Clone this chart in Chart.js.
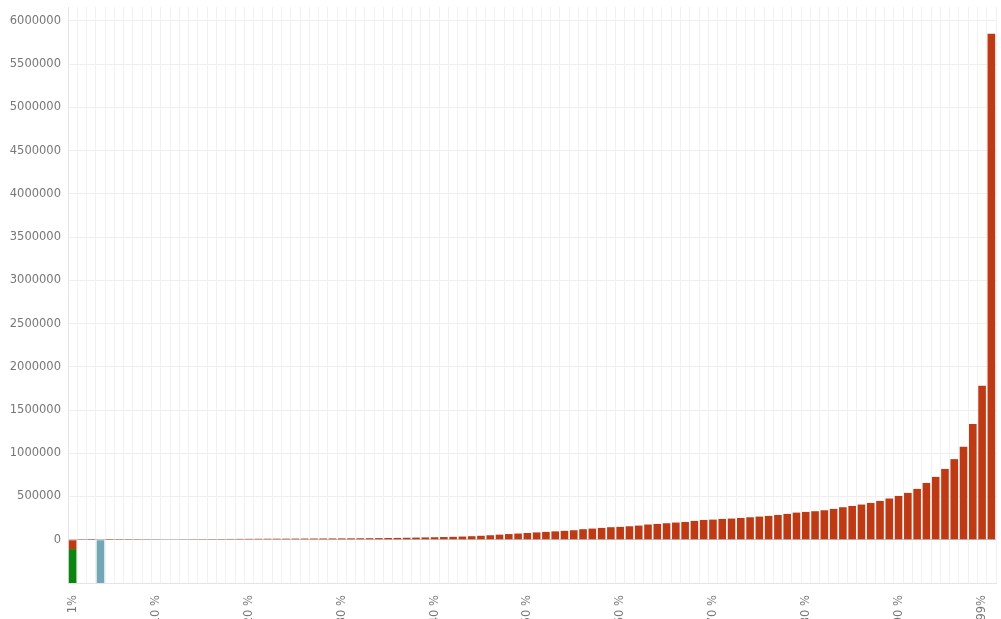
<!DOCTYPE html>
<html>
<head>
<meta charset="utf-8">
<script src="https://cdn.jsdelivr.net/npm/chart.js@4/dist/chart.umd.min.js"></script>
<style>
  html, body { margin: 0; padding: 0; background: #fff; overflow: hidden; }
  #wrap { width: 1001px; height: 619px; overflow: hidden; }
  canvas { display: block; }
</style>
</head>
<body>
<div id="wrap"><canvas id="chart" width="1001" height="640"></canvas></div>
<script>
// Percentile buckets 1%..100%, only a few of them carry a visible label
const percentiles = Array.from({ length: 100 }, (_, i) => i + 1);
const labelAt = [1, 10, 20, 30, 40, 50, 60, 70, 80, 90, 99];
const labelText = ['1%', '10 %', '20 %', '30 %', '40 %', '50 %', '60 %', '70 %', '80 %', '90 %', '99%'];

// Main series (red), one value per percentile
const netValues = [
    -108000, 3000, 1000, 0, 1200, 2000, 2800, 3500, 4200, 4800,
    5500, 6000, 6600, 7200, 7800, 8400, 9000, 9600, 10200, 10800,
    11300, 11800, 12300, 12800, 13300, 13800, 14300, 14800, 15300, 15900,
    16500, 17200, 18000, 19000, 20000, 21500, 23000, 25000, 27000, 29000,
    31500, 34000, 37000, 41000, 46000, 52000, 59000, 66000, 72000, 78000,
    85000, 91000, 97000, 103000, 110000, 122000, 129000, 137000, 145000, 149000,
    156000, 164000, 176000, 183000, 191000, 199000, 206000, 218000, 229000, 233000,
    241000, 245000, 252000, 260000, 268000, 276000, 287000, 299000, 314000, 322000,
    330000, 341000, 357000, 376000, 391000, 407000, 426000, 449000, 477000, 507000,
    542000, 588000, 657000, 727000, 819000, 932000, 1074000, 1337000, 1780000, 5850000
];

// The two bars that run off the bottom of the chart (percentile, value)
const greenAt = 1;
const greenValue = -600000;
const blueAt = 4;
const blueValue = -600000;

const yTickValues = [-500000, 0, 500000, 1000000, 1500000, 2000000, 2500000, 3000000,
    3500000, 4000000, 4500000, 5000000, 5500000, 6000000];

const labels = percentiles.map(p => {
    const k = labelAt.indexOf(p);
    return k >= 0 ? labelText[k] : '';
});
const greenSeries = percentiles.map(p => p === greenAt ? greenValue : null);
const blueSeries = percentiles.map(p => p === blueAt ? blueValue : null);

const FONT = { family: 'DejaVu Sans', size: 11.5 };

new Chart(document.getElementById('chart').getContext('2d'), {
    type: 'bar',
    data: {
        labels: labels,
        datasets: [
            { data: netValues, backgroundColor: '#bd3a14' },
            { data: greenSeries, backgroundColor: '#0b850f' },
            { data: blueSeries, backgroundColor: '#74a7b6' }
        ]
    },
    options: {
        responsive: false,
        animation: false,
        layout: { padding: { top: 7, right: 5, left: 0, bottom: 0 } },
        datasets: { bar: { categoryPercentage: 1, barPercentage: 0.82 } },
        plugins: { legend: { display: false }, tooltip: { enabled: false } },
        scales: {
            x: {
                stacked: true,
                afterFit: s => {
                    s.height = 57;
                    s.paddingLeft = 0;
                    s.paddingRight = 0;
                },
                grid: { color: '#f1f1f1', drawTicks: false },
                border: { color: '#e4e4e4' },
                ticks: {
                    autoSkip: false,
                    minRotation: 90,
                    maxRotation: 90,
                    padding: 12,
                    color: '#777',
                    font: FONT
                }
            },
            y: {
                stacked: true,
                min: -500000,
                max: 6160000,
                afterFit: s => {
                    s.width = 68;
                    s.paddingTop = 0;
                    s.paddingBottom = 0;
                },
                afterBuildTicks: s => { s.ticks = yTickValues.map(v => ({ value: v })); },
                grid: {
                    drawTicks: false,
                    color: ctx => ctx.tick && ctx.tick.value === 0 ? '#c4c4c4' : '#efefef'
                },
                border: { color: '#e4e4e4' },
                ticks: {
                    padding: 7,
                    color: '#777',
                    font: FONT,
                    callback: v => v < 0 ? '' : String(v)
                }
            }
        }
    }
});
</script>
</body>
</html>
